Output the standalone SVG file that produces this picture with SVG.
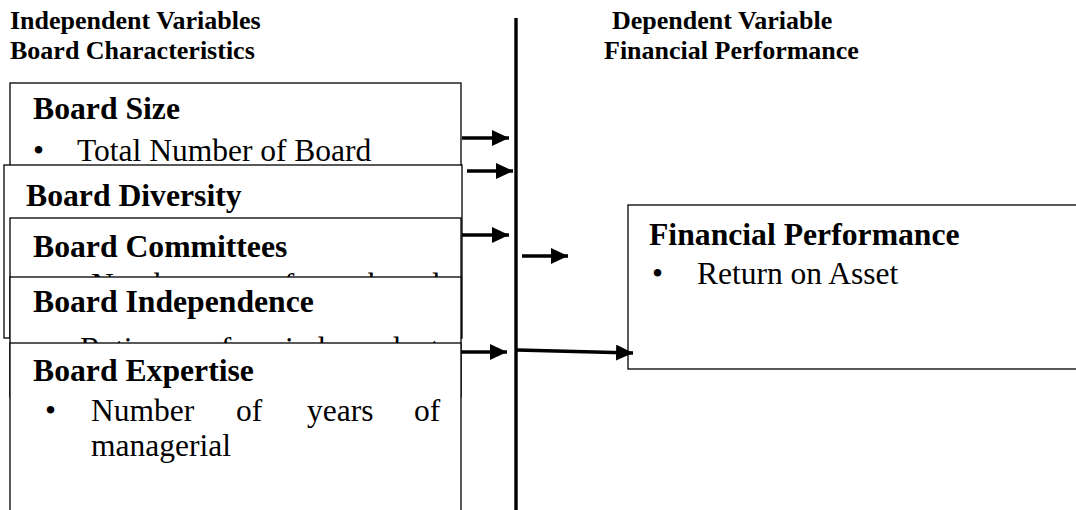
<svg xmlns="http://www.w3.org/2000/svg" width="1076" height="510" viewBox="0 0 1076 510">
<style>
.hd{font-family:"Liberation Serif","Times New Roman",serif;font-weight:bold;font-size:26px;fill:#000}
.tt{font-family:"Liberation Serif","Times New Roman",serif;font-weight:bold;font-size:31.7px;fill:#000}
.bd{font-family:"Liberation Serif","Times New Roman",serif;font-size:31.5px;fill:#000}
.box{fill:#fff;stroke:#000;stroke-width:1.3}
.ar{stroke:#000;stroke-width:3.4;fill:none;marker-end:url(#ah)}
</style>
<defs>
<marker id="ah" markerUnits="userSpaceOnUse" markerWidth="19" markerHeight="17" refX="17" refY="8" orient="auto">
<path d="M0,0 L17,8 L0,16 Z" fill="#000"/>
</marker>
</defs>
<rect width="1076" height="510" fill="#fff"/>
<g id="headers">
<text class="hd" x="10" y="29">Independent Variables</text>
<text class="hd" x="10" y="59">Board Characteristics</text>
<text class="hd" x="612" y="29">Dependent Variable</text>
<text class="hd" x="604" y="59">Financial Performance</text>
</g>
<g id="board-size">
<rect class="box" x="10" y="83" width="451" height="120"/>
<text class="tt" x="33" y="119">Board Size</text>
<text class="bd" x="33" y="161">•</text>
<text class="bd" x="77" y="161">Total Number of Board</text>
</g>
<g id="board-diversity">
<rect class="box" x="4" y="165" width="458" height="173"/>
<text class="tt" x="26" y="206">Board Diversity</text>
</g>
<g id="board-committees">
<rect class="box" x="10" y="218" width="451" height="120"/>
<text class="tt" x="33" y="257">Board Committees</text>
<text class="bd" x="45" y="295">•</text>
<text class="bd" x="91" y="295">Number</text>
<text class="bd" x="268" y="295">of</text>
<text class="bd" x="368" y="295">board</text>
</g>
<g id="board-independence">
<rect class="box" x="10" y="277" width="451" height="120"/>
<text class="tt" x="33" y="312">Board Independence</text>
<text class="bd" x="35" y="359">•</text>
<text class="bd" x="80" y="359">Ratio</text>
<text class="bd" x="205" y="359">of</text>
<text class="bd" x="285" y="359">independent</text>
</g>
<g id="board-expertise">
<rect class="box" x="10" y="343" width="451" height="180"/>
<text class="tt" x="33" y="381">Board Expertise</text>
<text class="bd" x="45" y="421">•</text>
<text class="bd" x="91" y="421">Number</text>
<text class="bd" x="236" y="421">of</text>
<text class="bd" x="307" y="421">years</text>
<text class="bd" x="414" y="421">of</text>
<text class="bd" x="91" y="456">managerial</text>
</g>
<g id="financial-performance">
<rect class="box" x="628" y="205" width="460" height="164"/>
<text class="tt" x="649" y="245">Financial Performance</text>
<text class="bd" x="652" y="284">•</text>
<text class="bd" x="697" y="284">Return on Asset</text>
</g>
<g id="connectors">
<line x1="516" y1="18" x2="516" y2="512" stroke="#000" stroke-width="3.4"/>
<line class="ar" x1="462" y1="138" x2="509" y2="138"/>
<line class="ar" x1="467" y1="171" x2="513" y2="171"/>
<line class="ar" x1="462" y1="235" x2="509" y2="235"/>
<line class="ar" x1="522" y1="256" x2="568" y2="256"/>
<line class="ar" x1="461" y1="352" x2="507" y2="352"/>
<line class="ar" x1="517" y1="350" x2="633" y2="353"/>
</g>
</svg>
